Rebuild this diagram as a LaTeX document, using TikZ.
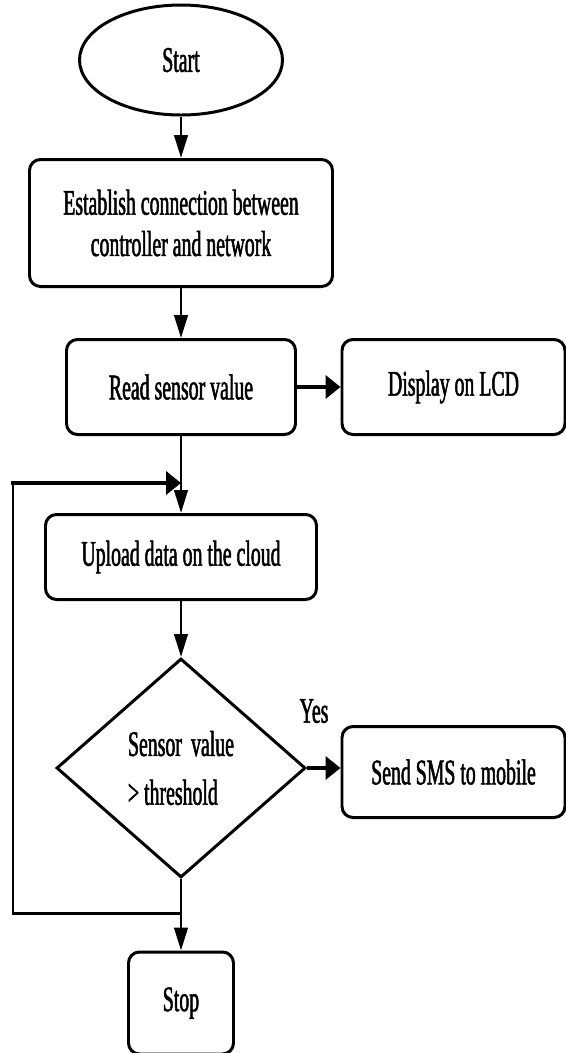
\documentclass[tikz,border=0pt]{standalone}
\usepackage{fontspec}
\setmainfont{Liberation Serif}[FakeStretch=0.55,FakeBold=1.4]
\usetikzlibrary{shapes.geometric,arrows.meta}

\begin{document}
\begin{tikzpicture}[
        every node/.style={font=\fontsize{20.5}{23.5}\selectfont,inner sep=0pt},
        procbox/.style={draw,line width=1.7pt,rounded corners=0.22cm,align=center},
        varrow/.style={line width=1.6pt,-{Triangle[length=0.46cm,width=0.27cm]}},
        harrow/.style={line width=2.2pt,-{Triangle[length=0.3cm,width=0.46cm]}}
    ]
        \useasboundingbox (0,0) rectangle (11.32,-21.06);
        %% Start
        \node[draw,ellipse,line width=1.7pt,minimum width=4.06cm,minimum height=2.2cm] (start) at (3.62,-1.2) {Start};
        %% Main column
        \node[procbox,minimum width=6.06cm,minimum height=2.54cm] (connect) at (3.62,-4.46) {Establish connection between\\controller and network};
        \node[procbox,minimum width=4.58cm,minimum height=1.9cm] (read) at (3.62,-7.74) {Read sensor value};
        \node[procbox,minimum width=5.42cm,minimum height=1.7cm] (upload) at (3.62,-11.14) {Upload data on the cloud};
        \node[draw,diamond,line width=1.7pt,minimum width=4.98cm,minimum height=4.38cm,align=left] (check) at (3.62,-15.36) {\makebox[2.12cm][l]{Sensor\hfill value}\\[0.15cm]> threshold};
        \node[procbox,minimum width=2.1cm,minimum height=2.04cm] (stop) at (3.62,-20.06) {Stop};
        %% Side boxes
        \node[procbox,minimum width=4.46cm,minimum height=1.9cm] (lcd) at (9.07,-7.74) {Display on LCD};
        \node[procbox,minimum width=4.46cm,minimum height=1.82cm] (sms) at (9.07,-15.44) {Send SMS to mobile};
        \node (yes) at (6.28,-14.22) {Yes};
        %% Arrows
        \draw[varrow] (start) -- (connect);
        \draw[varrow] (connect) -- (read);
        \draw[harrow] (read) -- (lcd);
        \draw[varrow] (read) -- (upload);
        \draw[varrow] (upload) -- (check);
        \draw[harrow] (check.east) -- (sms.west |- check.east);
        \draw[varrow] (check) -- (stop);
        %% Loop back
        \coordinate (noback) at (3.62,-18.26);
        \coordinate (rejoin) at (3.62,-9.66);
        \draw[line width=1.7pt] (noback) -- (0.26,-18.26) -- (0.26,-9.66);
        \draw[harrow,line width=2.6pt] (0.26-0.03,-9.66) -- (rejoin);
    \end{tikzpicture}
\end{document}
